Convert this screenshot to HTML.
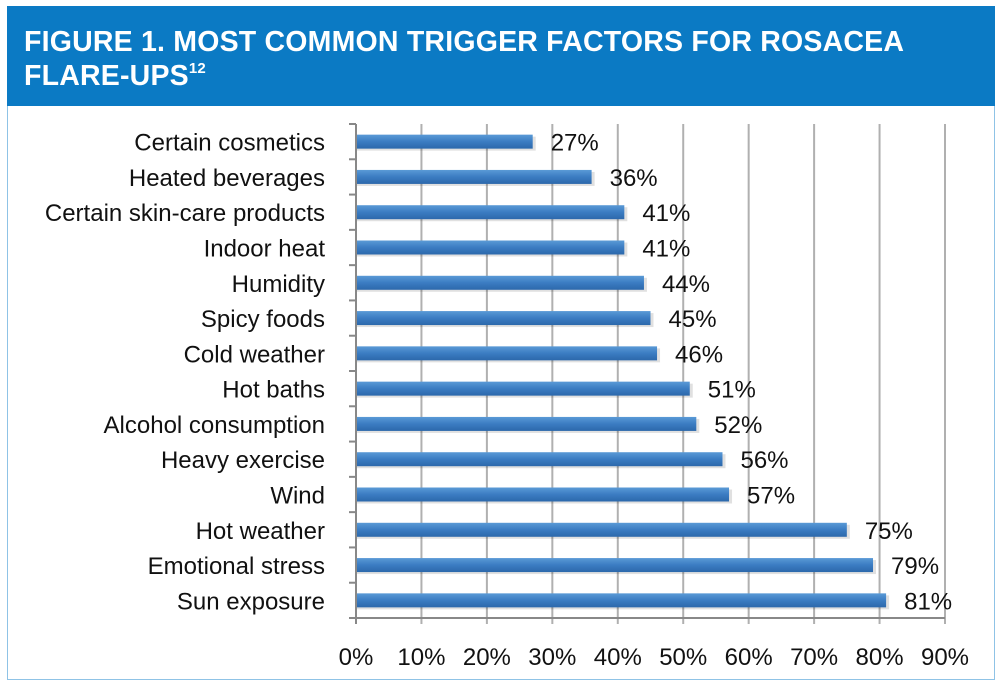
<!DOCTYPE html>
<html><head><meta charset="utf-8"><style>
body{margin:0;background:#fff;width:1000px;height:684px;overflow:hidden;font-family:"Liberation Sans",sans-serif}
#frame{position:absolute;left:7px;top:6px;width:988px;height:674px;border:1px solid #8fc3e6;border-top:none;box-sizing:border-box}
#hdr{position:absolute;left:7px;top:6px;width:988px;height:100px;background:#0b7ac4;color:#fff;font-weight:bold;font-size:28.5px;line-height:34px;padding:19px 0 0 17px;box-sizing:border-box;letter-spacing:0.2px}
sup{font-size:15px;vertical-align:top;line-height:20px}
svg{position:absolute;left:0;top:0}
text{font-family:"Liberation Sans",sans-serif;font-size:24px;fill:#111}
</style></head><body>
<div id="frame"></div>
<div id="hdr">FIGURE 1. MOST COMMON TRIGGER FACTORS FOR ROSACEA<br>FLARE-UPS<sup>12</sup></div>
<svg id="c" width="1000" height="684">
<defs><linearGradient id="g" x1="0" y1="0" x2="0" y2="1"><stop offset="0" stop-color="#5a9ad6"/><stop offset="0.5" stop-color="#3b7cc2"/><stop offset="1" stop-color="#2c68ab"/></linearGradient></defs>
</svg>
<script>
const categories=["Certain cosmetics","Heated beverages","Certain skin-care products","Indoor heat","Humidity","Spicy foods","Cold weather","Hot baths","Alcohol consumption","Heavy exercise","Wind","Hot weather","Emotional stress","Sun exposure"];
const values=[27,36,41,41,44,45,46,51,52,56,57,75,79,81];
const ticks=[0,10,20,30,40,50,60,70,80,90];
const svg=document.getElementById('c');const NS='http://www.w3.org/2000/svg';
const x0=356,x1=945,yTop=124,yBot=618;
const xs=v=>x0+(x1-x0)*v/90;
const band=(yBot-yTop)/categories.length;
function mk(t,a){const e=document.createElementNS(NS,t);for(const k in a)e.setAttribute(k,a[k]);svg.appendChild(e);return e;}
ticks.forEach(t=>{
 const g=mk('line',{x1:xs(t),x2:xs(t),y1:yTop,y2:yBot+6,stroke:t?'#b0b0b0':'#888','stroke-width':2});
 
 
 const l=mk('text',{x:xs(t),y:665,'text-anchor':'middle'});l.textContent=t+'%';
 
 
});
for(let i=0;i<=categories.length;i++){const y=yTop+i*band;const tk=mk('line',{x1:x0-7,x2:x0,y1:y,y2:y,stroke:'#888','stroke-width':2});
 
 }
const ax=mk('line',{x1:x0-6,x2:x1,y1:yBot,y2:yBot,stroke:'#888','stroke-width':2});


categories.forEach((c,i)=>{
 const yc=yTop+band*(i+0.5);
 const sh=mk('rect',{x:x0+1,y:yc-5,width:xs(values[i])-x0+2,height:14,fill:'#000',opacity:0.12});
 
 
 const r=mk('rect',{x:x0+1,y:yc-7,width:xs(values[i])-x0-1,height:14,fill:'url(#g)'});
 
 
 const l=mk('text',{x:325,y:yc+9,'text-anchor':'end'});l.textContent=c;
 
 
 const v=mk('text',{x:xs(values[i])+18,y:yc+9});v.textContent=values[i]+'%';
 
 
});
</script>
</body></html>
